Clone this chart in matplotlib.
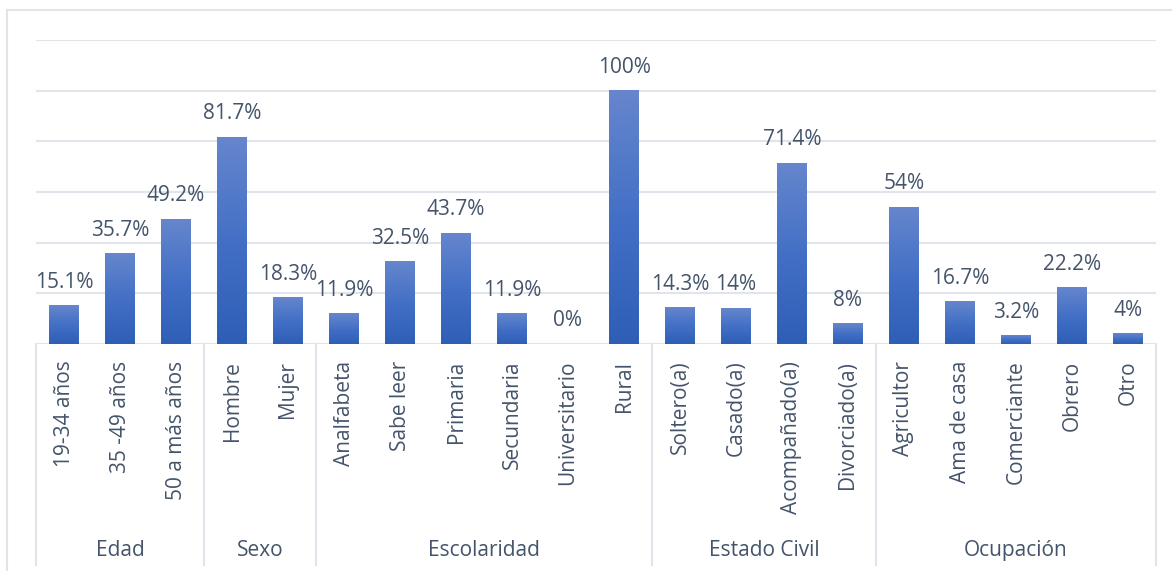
import numpy as np
import matplotlib.pyplot as plt
from matplotlib.colors import LinearSegmentedColormap
from matplotlib.transforms import blended_transform_factory
from matplotlib.lines import Line2D

# Data
groups = ["Edad", "Sexo", "Escolaridad", "Estado Civil", "Ocupación"]
groupSizes = [3, 2, 6, 4, 5]
categories = ["19-34 años", "35 -49 años", "50 a más años",
              "Hombre", "Mujer",
              "Analfabeta", "Sabe leer", "Primaria", "Secundaria", "Universitario", "Rural",
              "Soltero(a)", "Casado(a)", "Acompañado(a)", "Divorciado(a)",
              "Agricultor", "Ama de casa", "Comerciante", "Obrero", "Otro"]
values = [15.1, 35.7, 49.2,
          81.7, 18.3,
          11.9, 32.5, 43.7, 11.9, 0, 100,
          14.3, 14, 71.4, 8,
          54, 16.7, 3.2, 22.2, 4]

textColor = "#44546A"
gridColor = "#E1E4EA"
fontSize = 15

plt.rcParams['font.family'] = ['Open Sans', 'DejaVu Sans']

fig = plt.figure(figsize=(11.72, 5.71), dpi=100)
ax = fig.add_axes([36 / 1172, 1 - 344 / 571, 1120 / 1172, 304 / 571])

# gradient fill for bars (lighter at the top)
cmap = LinearSegmentedColormap.from_list("bar", ["#2E5EB6", "#4370C6", "#6686CD"])
grad = np.linspace(0, 1, 256).reshape(-1, 1)
xs = np.arange(len(values)) + 0.5
barWidth = 0.52
for x, v in zip(xs, values):
    if v > 0:
        ax.imshow(grad, extent=[x - barWidth / 2, x + barWidth / 2, 0, v], origin="lower",
                  aspect="auto", cmap=cmap, zorder=3)
    ax.annotate(f"{v:g}%", (x, v), xytext=(0, 13), textcoords="offset points",
                ha="center", va="baseline", fontsize=fontSize, color=textColor, zorder=4)

ax.set_xlim(0, len(values))
ax.set_ylim(0, 120)
ax.set_yticks(np.arange(0, 121, 20))
ax.yaxis.grid(True, color=gridColor, lw=1.5)
ax.set_axisbelow(True)
ax.tick_params(axis="y", left=False, labelleft=False)
for s in ax.spines.values():
    s.set_visible(False)

ax.set_xticks(xs)
ax.set_xticklabels(categories, rotation=90, fontsize=fontSize, color=textColor)
ax.tick_params(axis="x", length=0, pad=12)

# group labels and separators
trans = blended_transform_factory(ax.transData, ax.transAxes)
edges = np.concatenate([[0], np.cumsum(groupSizes)])
for e in edges:
    ax.add_line(Line2D([e, e], [0, -0.727], transform=trans, color=gridColor,
                       lw=1.5, clip_on=False))
for g, a, b in zip(groups, edges[:-1], edges[1:]):
    ax.text((a + b) / 2, -0.68, g, transform=trans, ha="center", va="center",
            fontsize=fontSize, color=textColor)

# chart frame
fig.add_artist(Line2D([7 / 1172, 7 / 1172], [0, 1 - 10 / 571], color=gridColor, lw=1.5))
fig.add_artist(Line2D([7 / 1172, 1], [1 - 10 / 571, 1 - 10 / 571], color=gridColor, lw=1.5))

fig.savefig("out.png", dpi=100)
